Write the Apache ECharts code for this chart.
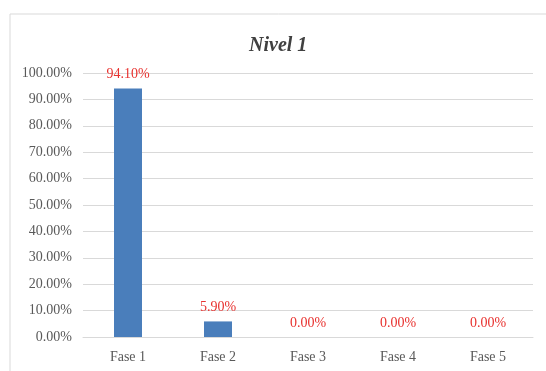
<!DOCTYPE html>
<html><head><meta charset="utf-8">
<script src="https://cdn.jsdelivr.net/npm/echarts@6/dist/echarts.min.js"></script>
<style>html,body{margin:0;padding:0;background:#fff}#c{width:546px;height:371px}</style>
</head><body><div id="c"></div>
<script>
const categories = ['Fase 1', 'Fase 2', 'Fase 3', 'Fase 4', 'Fase 5'];
const values = [94.10, 5.90, 0.00, 0.00, 0.00];
const titleText = 'Nivel 1';

const chart = echarts.init(document.getElementById('c'), null, {renderer: 'canvas'});
const font = 'Liberation Serif';
chart.setOption({
  animation: false,
  graphic: [{
    type: 'rect', left: 9.5, top: 13.5, z: -1,
    shape: {width: 600, height: 400},
    style: {fill: '#fff', stroke: '#d9d9d9', lineWidth: 1}
  }],
  title: {
    text: titleText, left: 244, top: 31,
    textStyle: {fontFamily: font, fontSize: 20, fontWeight: 'bold', fontStyle: 'italic', color: '#404040'}
  },
  grid: {left: 83, right: 13, top: 73, bottom: 34, containLabel: false},
  xAxis: {
    type: 'category', data: categories,
    axisLine: {show: true, lineStyle: {color: '#d9d9d9'}},
    axisTick: {show: false},
    axisLabel: {fontFamily: font, fontSize: 14, color: '#595959', margin: 13}
  },
  yAxis: {
    type: 'value', min: 0, max: 100, interval: 10,
    axisLine: {show: false}, axisTick: {show: false},
    splitLine: {lineStyle: {color: '#d9d9d9'}},
    axisLabel: {fontFamily: font, fontSize: 14, color: '#595959', margin: 11,
      formatter: v => v.toFixed(2) + '%'}
  },
  series: [{
    type: 'bar', data: values, barWidth: 28,
    itemStyle: {color: '#4a7ebb'},
    label: {show: true, position: 'top', distance: 7, fontFamily: font, fontSize: 14, color: '#e8322f',
      formatter: p => p.value.toFixed(2) + '%'}
  }]
});
</script></body></html>
